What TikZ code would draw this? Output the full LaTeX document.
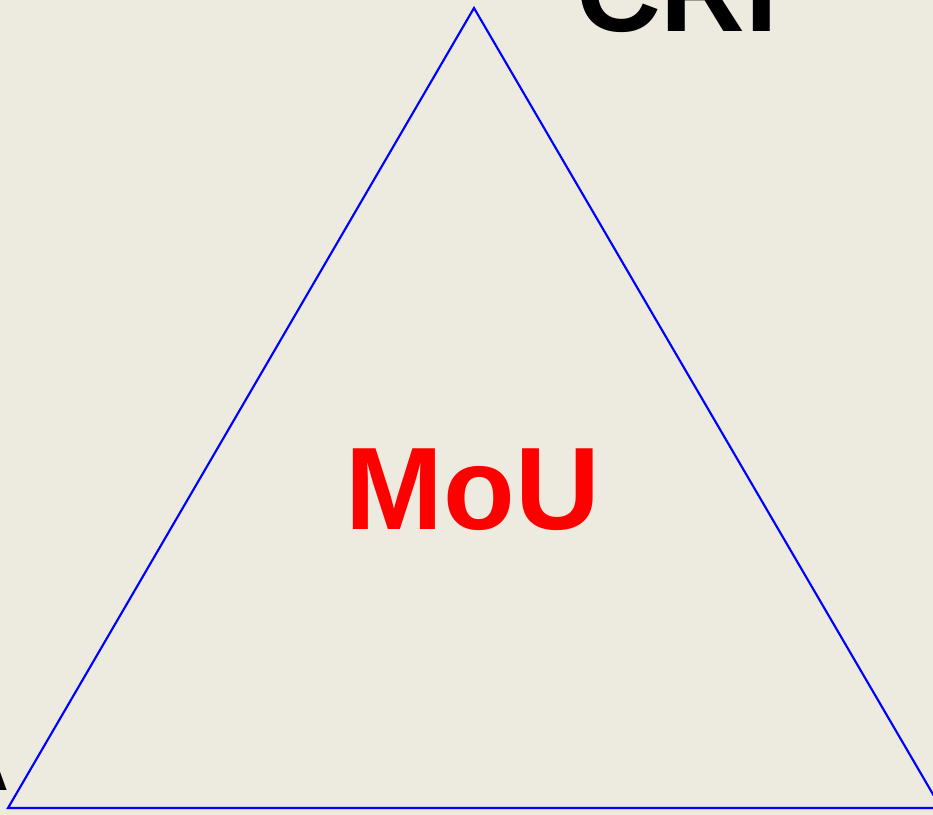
\documentclass[tikz,border=0pt]{standalone}
\usepackage{fontspec}
\setmainfont{Liberation Sans}
\definecolor{xPaper}{RGB}{237,235,224}
\definecolor{xEdge}{RGB}{0,0,255}
\definecolor{xRed}{RGB}{255,0,0}

\begin{document}
\begin{tikzpicture}[x=0.75pt,y=-0.75pt]

    % -------------------------------------------------
    % Paper background (fixes the page size)
    % -------------------------------------------------
    \fill[xPaper] (0,0) rectangle (933,815);
    \useasboundingbox (0,0) rectangle (933,815);

    % -------------------------------------------------
    % Triangle, apex at the top; the right corner
    % lies just outside the page
    % -------------------------------------------------
    \draw[
        xEdge,
        line width=1.6pt,
        line join=miter
    ]
        (474,8) --
        (941,808) --
        (8,808) -- cycle;

    % -------------------------------------------------
    % Labels
    % -------------------------------------------------
    \node[xRed, inner sep=0pt] (mou) at (473,490)
        {\fontsize{88}{100}\selectfont\bfseries MoU};

    \node[black, inner sep=0pt, anchor=base west] (cri) at (576,31)
        {\fontsize{88}{100}\selectfont\bfseries CRI};

    \node[black, inner sep=0pt, anchor=base east] (corner) at (11,790)
        {\fontsize{88}{100}\selectfont\bfseries A};

\end{tikzpicture}
\end{document}
